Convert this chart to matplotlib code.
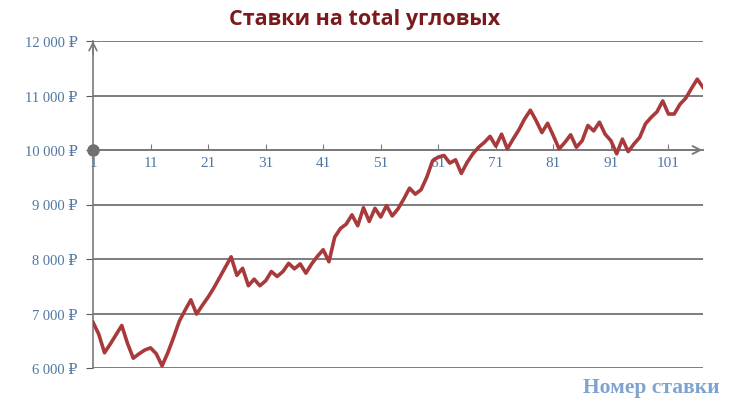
import matplotlib.pyplot as plt
from matplotlib.ticker import FuncFormatter

# bet number vs bank
bets = list(range(1, 108))
bank = [
    6840, 6620, 6280, 6440, 6610, 6780, 6450, 6180, 6260, 6330,
    6370, 6260, 6040, 6280, 6560, 6860, 7060, 7250, 6990, 7150,
    7300, 7470, 7660, 7850, 8040, 7700, 7830, 7510, 7630, 7510,
    7600, 7770, 7680, 7770, 7920, 7820, 7910, 7740, 7910, 8050,
    8170, 7950, 8400, 8560, 8640, 8810, 8610, 8940, 8690, 8930,
    8770, 8980, 8790, 8920, 9100, 9300, 9190, 9270, 9500, 9800,
    9870, 9900, 9760, 9820, 9570, 9770, 9930, 10050, 10140, 10250,
    10070, 10290, 10020, 10200, 10370, 10570, 10730, 10540, 10320, 10490,
    10260, 10020, 10140, 10280, 10050, 10170, 10450, 10350, 10510, 10290,
    10170, 9930, 10200, 9970, 10110, 10230, 10480, 10600, 10700, 10900,
    10660, 10660, 10840, 10950, 11130, 11300, 11150,
]
x_ticks = list(range(1, 102, 10))
y_ticks = list(range(6000, 12001, 1000))
start_bank = 10000

SERIF = ["Liberation Serif", "DejaVu Serif"]
BLUE = "#4f77a3"
AXIS = "#7a7a7a"

W, H = 730, 406
fig = plt.figure(figsize=(W / 100, H / 100), dpi=100)
ax = fig.add_axes([93 / W, (H - 369) / H, (703 - 93) / W, (369 - 42) / H])

ax.plot(bets, bank, color="#a83a3c", lw=2.6, solid_joinstyle="round", zorder=4)

ax.set_xlim(1, 107)
ax.set_ylim(6000, 12000)
ax.set_yticks(y_ticks)
ax.set_xticks(x_ticks)

ax.yaxis.grid(True, color="#5a5a5a", lw=1.1)
ax.set_axisbelow(True)

for s in ["top", "right"]:
    ax.spines[s].set_visible(False)
ax.spines["left"].set_color(AXIS)
ax.spines["left"].set_linewidth(1.2)
ax.spines["bottom"].set_position(("data", start_bank))
ax.spines["bottom"].set_color(AXIS)
ax.spines["bottom"].set_linewidth(1.4)

# arrows on both axes
ax.annotate("", xy=(107.4, start_bank), xytext=(105, start_bank),
            arrowprops=dict(arrowstyle="->", color=AXIS, lw=1.4,
                            mutation_scale=14), annotation_clip=False)
ax.annotate("", xy=(1, 12050), xytext=(1, 11700),
            arrowprops=dict(arrowstyle="->", color=AXIS, lw=1.2,
                            mutation_scale=14), annotation_clip=False)

ax.plot([1], [start_bank], "o", color="#707070", ms=8, zorder=5, clip_on=False)

ax.yaxis.set_major_formatter(FuncFormatter(lambda v, p: f"{int(v):,} ₽".replace(",", " ")))
ax.tick_params(axis="y", length=5, color="#5a5a5a", pad=6, labelcolor=BLUE, labelsize=10.5)
ax.tick_params(axis="x", direction="in", length=4, color=AXIS, pad=4.5, labelcolor=BLUE, labelsize=11)
for lbl in ax.get_xticklabels() + ax.get_yticklabels():
    lbl.set_family(SERIF)

fig.text(0.5, 0.953, "Ставки на total угловых", ha="center", va="center",
         fontsize=15.5, color="#7a1a1c", family="Open Sans", weight="bold")
fig.text(720 / W, 1 - 388 / H, "Номер ставки", ha="right", va="center",
         fontsize=15.5, color="#7fa3cf", family=SERIF, weight="bold")

fig.savefig("out.png", dpi=100)
